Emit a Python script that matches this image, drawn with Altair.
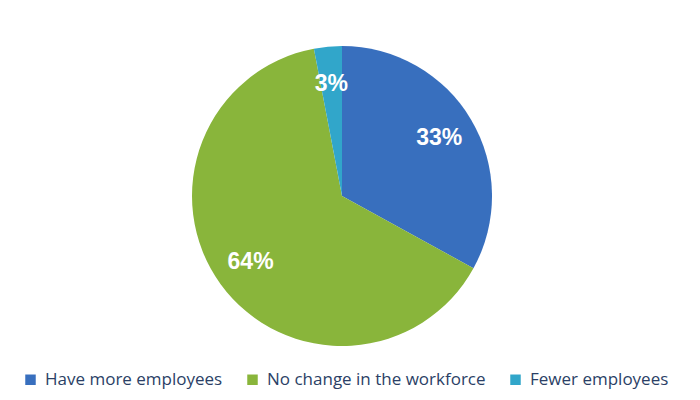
import altair as alt
import pandas as pd

categories = ["Have more employees", "No change in the workforce", "Fewer employees"]
values = [33, 64, 3]
labels = ["33%", "64%", "3%"]
colors = ["#386FBE", "#89B53B", "#31A6CA"]

df = pd.DataFrame({"cat": categories, "val": values, "lab": labels, "ord": [0, 1, 2]})

base = alt.Chart(df).encode(
    theta=alt.Theta("val:Q", stack=True),
    order=alt.Order("ord:Q"),
)

pie = base.mark_arc(outerRadius=150).encode(
    x=alt.value(334), y=alt.value(188),
    color=alt.Color(
        "cat:N",
        scale=alt.Scale(domain=categories, range=colors),
        sort=categories,
        legend=alt.Legend(
            title=None, orient="none", direction="horizontal",
            legendX=14, legendY=363,
            symbolType="square", symbolSize=110, symbolStrokeWidth=0,
            labelFont="Open Sans", labelFontSize=17, labelColor="#2B3F66",
            columnPadding=21, labelOffset=6, labelLimit=400,
        ),
    ),
)

text = base.mark_text(radius=113, font="Arial", fontSize=23, fontWeight="bold", color="white").encode(
    x=alt.value(334), y=alt.value(188),
    text="lab:N",
)

chart = (pie + text).properties(width=684, height=384, padding=0).configure_view(stroke=None)
chart.save("out.html", embed_options={"renderer": "svg", "actions": False})
